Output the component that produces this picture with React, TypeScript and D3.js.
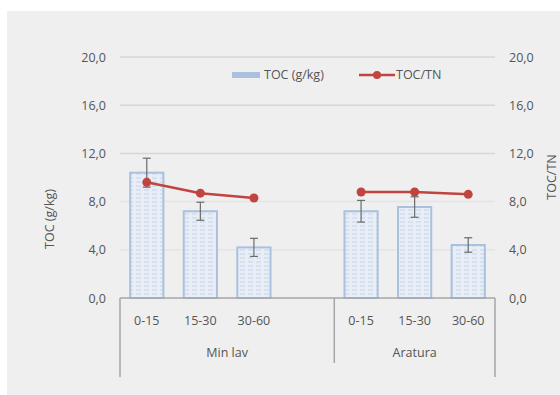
import React, { useRef, useEffect } from 'react';
import * as d3 from 'd3';

// categories: 3 depths per group, one empty slot after "Min lav"
const slots = ['m0', 'm1', 'm2', 'gap', 'a0', 'a1', 'a2'];
const depthLabels = ['0-15', '15-30', '30-60', '', '0-15', '15-30', '30-60'];
const groups = ['Min lav', 'Aratura'];

// series
const tocValues: (number | null)[] = [10.4, 7.2, 4.2, null, 7.2, 7.55, 4.4];
const tocErrors: (number | null)[] = [1.2, 0.75, 0.75, null, 0.9, 0.85, 0.6];
const ratioValues: (number | null)[] = [9.6, 8.7, 8.3, null, 8.8, 8.8, 8.6];

const yTicks = [0, 4, 8, 12, 16, 20];

const W = 560;
const H = 395;
const fmt = (v: number) => v.toFixed(1).replace('.', ',');

const App: React.FC = () => {
    const svgRef = useRef<SVGSVGElement | null>(null);

    useEffect(() => {
        if (!svgRef.current) return;
        const svg = d3.select(svgRef.current);
        svg.selectAll('*').remove();

        const font = "'Open Sans', sans-serif";
        const fs = 12.5;
        const textColor = '#555555';
        const left = 120;
        const right = 495;
        const top = 57;
        const bottom = 298;

        const x = d3
            .scaleBand<string>()
            .domain(slots)
            .range([left, right])
            .paddingInner(0.38)
            .paddingOuter(0.19);
        const y = d3.scaleLinear().domain([0, 20]).range([bottom, top]);
        const y2 = d3.scaleLinear().domain([0, 20]).range([bottom, top]);

        // background
        svg.append('rect')
            .attr('width', W)
            .attr('height', H)
            .attr('fill', '#ffffff');
        svg.append('rect')
            .attr('x', 7)
            .attr('y', 11)
            .attr('width', W - 7)
            .attr('height', H - 11)
            .attr('fill', '#efefef');

        // bar pattern
        const defs = svg.append('defs');
        const pat = defs
            .append('pattern')
            .attr('id', 'barPat')
            .attr('patternUnits', 'userSpaceOnUse')
            .attr('width', 8)
            .attr('height', 4);
        pat.append('rect')
            .attr('width', 8)
            .attr('height', 4)
            .attr('fill', '#e9eef6');
        pat.append('line')
            .attr('x1', 0)
            .attr('x2', 5)
            .attr('y1', 2)
            .attr('y2', 2)
            .attr('stroke', '#c3d3e8')
            .attr('stroke-width', 1);

        // gridlines
        svg.append('g')
            .selectAll('line')
            .data(yTicks.filter((t) => t > 0))
            .enter()
            .append('line')
            .attr('x1', left)
            .attr('x2', right)
            .attr('y1', (d) => y(d))
            .attr('y2', (d) => y(d))
            .attr('stroke', (d) => (d >= 12 ? '#d6d6d6' : '#e4e4e4'))
            .attr('stroke-width', 1.5);

        // left axis labels
        svg.append('g')
            .selectAll('text')
            .data(yTicks)
            .enter()
            .append('text')
            .attr('x', 106)
            .attr('y', (d) => y(d) + 4.5)
            .attr('text-anchor', 'end')
            .attr('font-family', font)
            .attr('font-size', fs)
            .attr('fill', textColor)
            .text((d) => fmt(d));

        // right axis labels
        svg.append('g')
            .selectAll('text')
            .data(yTicks)
            .enter()
            .append('text')
            .attr('x', 509)
            .attr('y', (d) => y2(d) + 4.5)
            .attr('font-family', font)
            .attr('font-size', fs)
            .attr('fill', textColor)
            .text((d) => fmt(d));

        // axis titles
        svg.append('text')
            .attr('transform', 'translate(54,219) rotate(-90)')
            .attr('text-anchor', 'middle')
            .attr('font-family', font)
            .attr('font-size', fs)
            .attr('fill', textColor)
            .text('TOC (g/kg)');
        svg.append('text')
            .attr('transform', 'translate(556,177) rotate(-90)')
            .attr('text-anchor', 'middle')
            .attr('font-family', font)
            .attr('font-size', fs)
            .attr('fill', textColor)
            .text('TOC/TN');

        // bars
        const barData = slots
            .map((s, i) => ({ s, v: tocValues[i], e: tocErrors[i] }))
            .filter((d) => d.v !== null) as { s: string; v: number; e: number }[];

        svg.append('g')
            .selectAll('rect')
            .data(barData)
            .enter()
            .append('rect')
            .attr('x', (d) => x(d.s)!)
            .attr('y', (d) => y(d.v))
            .attr('width', x.bandwidth())
            .attr('height', (d) => y(0) - y(d.v))
            .attr('fill', 'url(#barPat)')
            .attr('stroke', '#a9c1de')
            .attr('stroke-width', 2);

        // error bars
        const err = svg.append('g').attr('stroke', '#6b6b6b').attr('stroke-width', 1.2);
        barData.forEach((d) => {
            const cx = x(d.s)! + x.bandwidth() / 2;
            err.append('line')
                .attr('x1', cx)
                .attr('x2', cx)
                .attr('y1', y(d.v - d.e))
                .attr('y2', y(d.v + d.e));
            [d.v - d.e, d.v + d.e].forEach((v) => {
                err.append('line')
                    .attr('x1', cx - 4)
                    .attr('x2', cx + 4)
                    .attr('y1', y(v))
                    .attr('y2', y(v));
            });
        });

        // TOC/TN line
        const lineData = slots.map((s, i) => ({ s, v: ratioValues[i] }));
        const line = d3
            .line<{ s: string; v: number | null }>()
            .defined((d) => d.v !== null)
            .x((d) => x(d.s)! + x.bandwidth() / 2)
            .y((d) => y2(d.v as number));
        const red = '#c0443f';
        svg.append('path')
            .datum(lineData)
            .attr('d', line)
            .attr('fill', 'none')
            .attr('stroke', red)
            .attr('stroke-width', 2.5);
        svg.append('g')
            .selectAll('circle')
            .data(lineData.filter((d) => d.v !== null))
            .enter()
            .append('circle')
            .attr('cx', (d) => x(d.s)! + x.bandwidth() / 2)
            .attr('cy', (d) => y2(d.v as number))
            .attr('r', 4.5)
            .attr('fill', red);

        // category axis
        const axisColor = '#a6a6a6';
        svg.append('line')
            .attr('x1', left)
            .attr('x2', right)
            .attr('y1', bottom)
            .attr('y2', bottom)
            .attr('stroke', axisColor)
            .attr('stroke-width', 1.5);
        const midX = x('a0')! - (x.step() * x.paddingInner()) / 2;
        const dividers = [
            { xv: left, y2v: 377 },
            { xv: midX, y2v: 363 },
            { xv: right, y2v: 377 },
        ];
        svg.append('g')
            .selectAll('line')
            .data(dividers)
            .enter()
            .append('line')
            .attr('x1', (d) => d.xv)
            .attr('x2', (d) => d.xv)
            .attr('y1', bottom)
            .attr('y2', (d) => d.y2v)
            .attr('stroke', axisColor)
            .attr('stroke-width', 1.5);

        svg.append('g')
            .selectAll('text')
            .data(slots.map((s, i) => ({ s, label: depthLabels[i] })))
            .enter()
            .append('text')
            .attr('x', (d) => x(d.s)! + x.bandwidth() / 2)
            .attr('y', 325)
            .attr('text-anchor', 'middle')
            .attr('font-family', font)
            .attr('font-size', fs)
            .attr('fill', textColor)
            .text((d) => d.label);

        const groupBounds = [
            [left, midX],
            [midX, right],
        ];
        svg.append('g')
            .selectAll('text')
            .data(groups)
            .enter()
            .append('text')
            .attr('x', (d, i) => (groupBounds[i][0] + groupBounds[i][1]) / 2)
            .attr('y', 357)
            .attr('text-anchor', 'middle')
            .attr('font-family', font)
            .attr('font-size', fs)
            .attr('fill', textColor)
            .text((d) => d);

        // legend
        const lg = svg.append('g').attr('font-family', font).attr('font-size', fs).attr('fill', textColor);
        lg.append('rect')
            .attr('x', 232)
            .attr('y', 72)
            .attr('width', 28)
            .attr('height', 6)
            .attr('fill', '#a9c1de');
        lg.append('text').attr('x', 264).attr('y', 79).text('TOC (g/kg)');
        lg.append('line')
            .attr('x1', 359)
            .attr('x2', 395)
            .attr('y1', 75)
            .attr('y2', 75)
            .attr('stroke', red)
            .attr('stroke-width', 2.5);
        lg.append('circle').attr('cx', 377).attr('cy', 75).attr('r', 4).attr('fill', red);
        lg.append('text').attr('x', 396).attr('y', 79).text('TOC/TN');
    }, []);

    return (
        <svg
            ref={svgRef}
            width={W}
            height={H}
            style={{ position: 'absolute', left: 0, top: 0 }}
        ></svg>
    );
};

export default App;
